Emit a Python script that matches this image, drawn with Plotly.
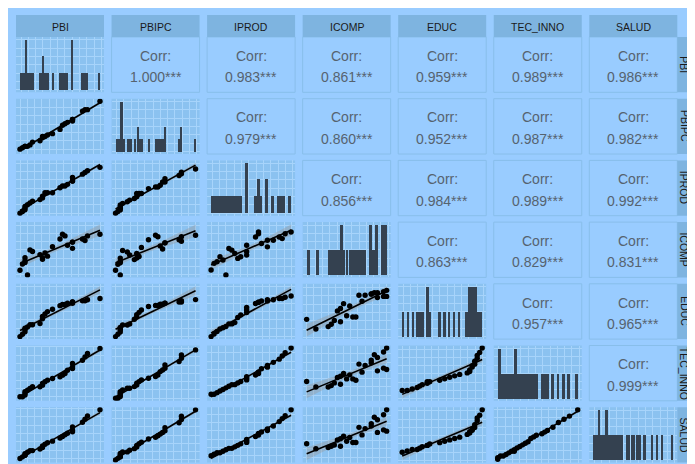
import numpy as np
import plotly.graph_objects as go

# ---------------- data (observations ordered by PBI) ----------------
VARIABLES = ["PBI", "PBIPC", "IPROD", "ICOMP", "EDUC", "TEC_INNO", "SALUD"]
PBI = [0, 1, 2, 2, 2, 3, 4, 5, 8, 9, 9, 10, 11, 13, 16, 17, 18, 19, 21, 21, 21, 25, 26, 27, 32]
PBIPC = [0, 1, 2, 2, 2, 2, 3, 5, 6, 8, 9, 9, 10, 11, 14, 17, 18, 19, 20, 21, 21, 27, 28, 28, 34]
IPROD = [0, 1, 2, 3, 4, 5, 6, 7, 8, 9, 10, 12, 12, 12, 15, 16, 16, 17, 19, 19, 21, 23, 24, 25, 27]
ICOMP = [3, 7, 8, 11, 9, 0, 16, 15, 13, 10, 11, 14, 12, 18, 23, 26, 25, 19, 17, 21, 21, 23, 22, 25, 26]
EDUC = [0, 2, 4, 6, 7, 8, 10, 10, 11, 15, 17, 19, 21, 23, 26, 27, 27, 28, 28, 29, 29, 30, 30, 31, 32]
TEC_INNO = [0, 0, 1, 2, 3, 4, 5, 6, 6, 7, 8, 9, 10, 11, 12, 13, 14, 16, 17, 18, 20, 22, 24, 26, 29]
SALUD = [0, 1, 2, 2, 3, 4, 5, 5, 6, 7, 8, 9, 10, 11, 13, 14, 15, 16, 17, 18, 20, 23, 25, 27, 31]
DATA = {"PBI": PBI, "PBIPC": PBIPC, "IPROD": IPROD, "ICOMP": ICOMP,
        "EDUC": EDUC, "TEC_INNO": TEC_INNO, "SALUD": SALUD}

CORR_LABEL = "Corr:"
CORR_TEXT = {
    ("PBI", "PBIPC"): "1.000***", ("PBI", "IPROD"): "0.983***", ("PBI", "ICOMP"): "0.861***",
    ("PBI", "EDUC"): "0.959***", ("PBI", "TEC_INNO"): "0.989***", ("PBI", "SALUD"): "0.986***",
    ("PBIPC", "IPROD"): "0.979***", ("PBIPC", "ICOMP"): "0.860***", ("PBIPC", "EDUC"): "0.952***",
    ("PBIPC", "TEC_INNO"): "0.987***", ("PBIPC", "SALUD"): "0.982***",
    ("IPROD", "ICOMP"): "0.856***", ("IPROD", "EDUC"): "0.984***", ("IPROD", "TEC_INNO"): "0.989***",
    ("IPROD", "SALUD"): "0.992***",
    ("ICOMP", "EDUC"): "0.863***", ("ICOMP", "TEC_INNO"): "0.829***", ("ICOMP", "SALUD"): "0.831***",
    ("EDUC", "TEC_INNO"): "0.957***", ("EDUC", "SALUD"): "0.965***",
    ("TEC_INNO", "SALUD"): "0.999***",
}

# ---------------- style / geometry (pixels inside the figure) ----------------
W, H = 695, 464
BG_OUTER = "#99CCFF"
PANEL_BG = "#8BC2F0"
GRID = "#A7D4FB"
STRIP_BG = "#7EB4E0"
CORR_BORDER = "#88BEEA"
BAR_COLOR = "#344150"
CORR_COLOR = "#56636F"
STRIP_TEXT = "#1A1A1A"
FONT = "Liberation Sans, Arial, sans-serif"

COL_X0, COL_STEP, PW = 8.0, 95.55, 88.0
ROW_Y0, ROW_STEP, PH = 29.0, 61.7, 55.3
STRIP_TOP = (7.0, 29.0)
RSTRIP_X = (669.3, 700.0)
RSTRIP_TEXT_X = 676.3
GRID_PX_X, GRID_PX_Y = 7.3, 8.3


def fx(px):
    return px / W


def fy(py):
    return 1 - py / H


def col_x(j):
    return COL_X0 + j * COL_STEP


def row_y(i):
    return ROW_Y0 + i * ROW_STEP


fig = go.Figure()
shapes = []
annotations = []

n = len(PBI)
t_crit = 2.069  # t(0.975, df=23)
axis_layout = {}
k = 0
for i, rv in enumerate(VARIABLES):
    for j, cv in enumerate(VARIABLES):
        x0p, x1p = col_x(j), col_x(j) + PW
        y0p, y1p = row_y(i), row_y(i) + PH
        if j > i:
            shapes.append(dict(type="rect", xref="paper", yref="paper", x0=fx(x0p), x1=fx(x1p),
                               y0=fy(y1p), y1=fy(y0p), fillcolor=BG_OUTER,
                               line=dict(color=CORR_BORDER, width=1), layer="below"))
            cx = (x0p + x1p) / 2
            cy = (y0p + y1p) / 2
            annotations.append(dict(x=fx(cx), y=fy(cy - 8.9), xref="paper", yref="paper",
                                    text=CORR_LABEL, showarrow=False, xanchor="center", yanchor="middle",
                                    font=dict(family=FONT, size=14, color=CORR_COLOR)))
            annotations.append(dict(x=fx(cx), y=fy(cy + 12.6), xref="paper", yref="paper",
                                    text=CORR_TEXT[(rv, cv)], showarrow=False, xanchor="center",
                                    yanchor="middle", font=dict(family=FONT, size=14, color=CORR_COLOR)))
            continue

        k += 1
        xa = "x" if k == 1 else f"x{k}"
        ya = "y" if k == 1 else f"y{k}"
        shapes.append(dict(type="rect", xref="paper", yref="paper", x0=fx(x0p), x1=fx(x1p),
                           y0=fy(y1p), y1=fy(y0p), fillcolor=PANEL_BG, line_width=0, layer="below"))

        if i == j:
            vals = np.array(DATA[cv], dtype=float)
            u, c = np.unique(vals, return_counts=True)
            span = vals.max() - vals.min() + 0.9
            xr = [vals.min() - 0.45 - 0.05 * span, vals.max() + 0.45 + 0.05 * span]
            yr = [-0.05 * c.max(), 1.05 * c.max()]
            fig.add_trace(go.Bar(x=u, y=c, width=0.98, marker=dict(color=BAR_COLOR, line_width=0),
                                 xaxis=xa, yaxis=ya, hoverinfo="skip", showlegend=False))
        else:
            xv = np.array(DATA[cv], dtype=float)
            yv = np.array(DATA[rv], dtype=float)
            b1, b0 = np.polyfit(xv, yv, 1)
            res = yv - (b0 + b1 * xv)
            s = np.sqrt(np.sum(res ** 2) / (n - 2))
            xbar = xv.mean()
            sxx = np.sum((xv - xbar) ** 2)
            xs = np.linspace(xv.min(), xv.max(), 80)
            ys = b0 + b1 * xs
            se = s * np.sqrt(1 / n + (xs - xbar) ** 2 / sxx)
            lo, hi = ys - t_crit * se, ys + t_crit * se
            xspan = xv.max() - xv.min()
            xr = [xv.min() - 0.05 * xspan, xv.max() + 0.05 * xspan]
            ymin = min(yv.min(), lo.min())
            ymax = max(yv.max(), hi.max())
            yspan = ymax - ymin
            yr = [ymin - 0.05 * yspan, ymax + 0.05 * yspan]
            fig.add_trace(go.Scatter(x=np.concatenate([xs, xs[::-1]]), y=np.concatenate([hi, lo[::-1]]),
                                     fill="toself", fillcolor="rgba(153,153,153,0.4)", line=dict(width=0),
                                     mode="lines", xaxis=xa, yaxis=ya, hoverinfo="skip", showlegend=False))
            fig.add_trace(go.Scatter(x=xs, y=ys, mode="lines", line=dict(color="black", width=1.6),
                                     xaxis=xa, yaxis=ya, hoverinfo="skip", showlegend=False))
            fig.add_trace(go.Scatter(x=xv, y=yv, mode="markers", marker=dict(color="black", size=5.4),
                                     xaxis=xa, yaxis=ya, hoverinfo="skip", showlegend=False))

        dx = GRID_PX_X * (xr[1] - xr[0]) / PW
        dy = GRID_PX_Y * (yr[1] - yr[0]) / PH
        axis_layout["xaxis" if k == 1 else f"xaxis{k}"] = dict(
            domain=[fx(x0p), fx(x1p)], range=xr, anchor=ya, showticklabels=False, ticks="",
            zeroline=False, showline=False, showgrid=True, gridcolor=GRID, gridwidth=1,
            tick0=0, dtick=dx, fixedrange=True)
        axis_layout["yaxis" if k == 1 else f"yaxis{k}"] = dict(
            domain=[fy(y1p), fy(y0p)], range=yr, anchor=xa, showticklabels=False, ticks="",
            zeroline=False, showline=False, showgrid=True, gridcolor=GRID, gridwidth=1,
            tick0=0, dtick=dy, fixedrange=True)

# strips
for j, v in enumerate(VARIABLES):
    x0p = col_x(j)
    shapes.append(dict(type="rect", xref="paper", yref="paper", x0=fx(x0p), x1=fx(x0p + PW),
                       y0=fy(STRIP_TOP[1]), y1=fy(STRIP_TOP[0]), fillcolor=STRIP_BG, line_width=0,
                       layer="below"))
    annotations.append(dict(x=fx(x0p + PW / 2), y=fy(19.3), xref="paper", yref="paper", text=v,
                            showarrow=False, xanchor="center", yanchor="middle",
                            font=dict(family=FONT, size=10.5, color=STRIP_TEXT)))
for i, v in enumerate(VARIABLES):
    y0p = row_y(i)
    shapes.append(dict(type="rect", xref="paper", yref="paper", x0=fx(RSTRIP_X[0]), x1=fx(RSTRIP_X[1]),
                       y0=fy(y0p + PH), y1=fy(y0p), fillcolor=STRIP_BG, line_width=0, layer="below"))
    annotations.append(dict(x=fx(RSTRIP_TEXT_X), y=fy(y0p + PH / 2), xref="paper", yref="paper", text=v,
                            showarrow=False, xanchor="center", yanchor="middle", textangle=90,
                            font=dict(family=FONT, size=10.5, color=STRIP_TEXT)))

fig.update_layout(width=W, height=H, margin=dict(l=0, r=0, t=0, b=0), paper_bgcolor=BG_OUTER,
                  plot_bgcolor="rgba(0,0,0,0)", showlegend=False, shapes=shapes, annotations=annotations,
                  bargap=0, **axis_layout)
fig.write_html("out.html")
